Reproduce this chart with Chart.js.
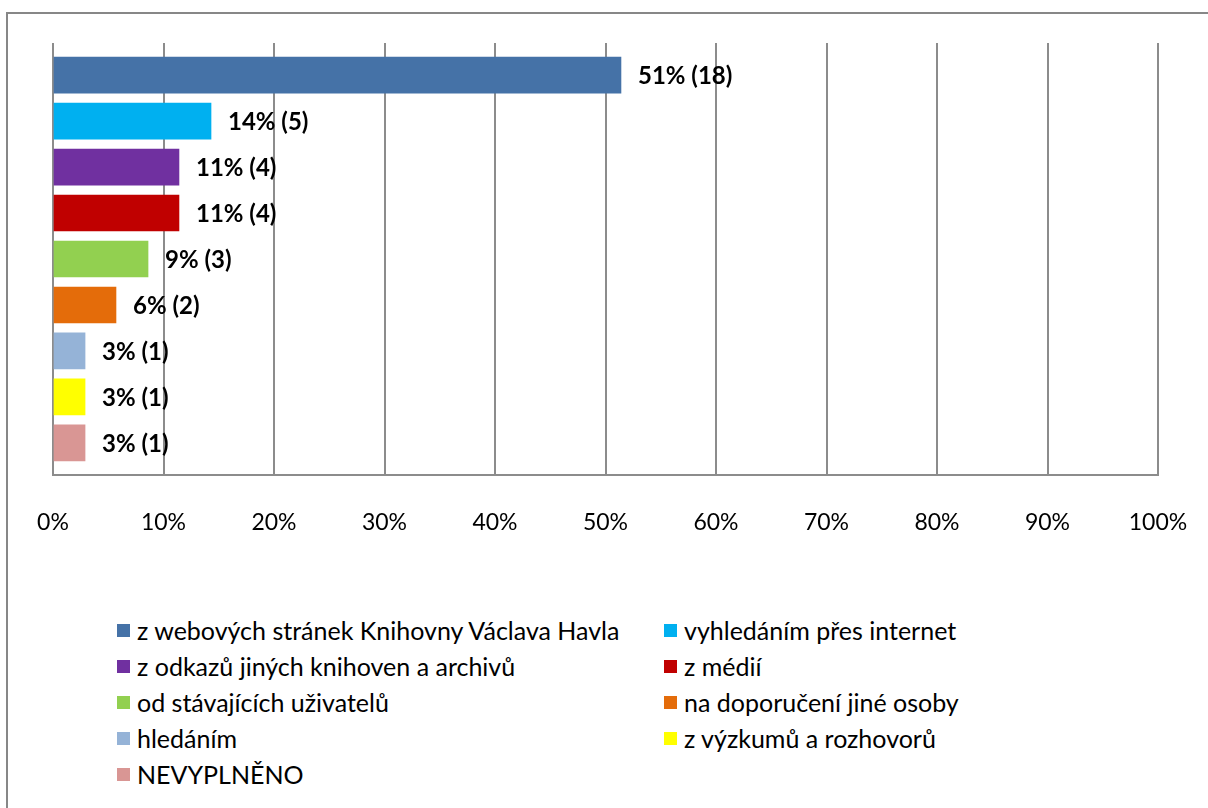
<!DOCTYPE html>
<html>
<head>
<meta charset="utf-8">
<script src="https://cdn.jsdelivr.net/npm/chart.js@4/dist/chart.umd.min.js"></script>
<style>
  html, body { margin: 0; padding: 0; background: #fff; overflow: hidden; }
  body { width: 1208px; height: 808px; position: relative; font-family: 'Lato', sans-serif; }
  #frame { position: absolute; left: 6px; top: 12px; width: 1220px; height: 820px; border: 2px solid #878787; }
  #wrap { position: absolute; left: 0; top: 0; width: 1208px; height: 560px; }
  #legend { position: absolute; left: 117px; top: 612px; display: grid; grid-template-columns: 547px 400px; grid-auto-rows: 36px; font-size: 25px; color: #000; }
  #legend .item { display: flex; align-items: center; white-space: nowrap; }
  #legend .box { width: 13px; height: 13px; margin-right: 7px; flex: none; }
</style>
</head>
<body>
<div id="frame"></div>
<div id="wrap"><canvas id="myChart"></canvas></div>
<div id="legend"></div>
<script>
/* Dati del grafico */
const categories = [
  'z webových stránek Knihovny Václava Havla',
  'vyhledáním přes internet',
  'z odkazů jiných knihoven a archivů',
  'z médií',
  'od stávajících uživatelů',
  'na doporučení jiné osoby',
  'hledáním',
  'z výzkumů a rozhovorů',
  'NEVYPLNĚNO'
];
const percentages = [51.4, 14.3, 11.4, 11.4, 8.6, 5.7, 2.9, 2.9, 2.9];
const counts = [18, 5, 4, 4, 3, 2, 1, 1, 1];
const colors = ['#4572A7', '#00B0F0', '#7030A0', '#C00000', '#92D050', '#E46C0A', '#95B3D7', '#FFFF00', '#D99694'];
const xTicks = [0, 10, 20, 30, 40, 50, 60, 70, 80, 90, 100];

/* Legenda a due colonne */
const legend = document.getElementById('legend');
categories.forEach((c, i) => {
  const item = document.createElement('div');
  item.className = 'item';
  const box = document.createElement('span');
  box.className = 'box';
  box.style.background = colors[i];
  const txt = document.createElement('span');
  txt.textContent = c;
  item.appendChild(box);
  item.appendChild(txt);
  legend.appendChild(item);
});

/* Etichette a destra delle barre */
const barLabels = {
  id: 'barLabels',
  afterDatasetsDraw(chart) {
    const ctx = chart.ctx;
    const meta = chart.getDatasetMeta(0);
    ctx.save();
    ctx.font = "bold 24px 'Lato', sans-serif";
    ctx.fillStyle = '#000';
    ctx.textAlign = 'left';
    ctx.textBaseline = 'middle';
    meta.data.forEach((bar, i) => {
      const text = Math.round(percentages[i]) + '% (' + counts[i] + ')';
      ctx.fillText(text, bar.x + 17, bar.y + 1);
    });
    ctx.restore();
  }
};

Chart.defaults.font.family = "'Lato', sans-serif";
Chart.defaults.font.size = 23;
Chart.defaults.color = '#000';

new Chart(document.getElementById('myChart'), {
  type: 'bar',
  data: {
    datasets: [{
      data: percentages.map((v, i) => ({ x: v, y: i })),
      backgroundColor: colors,
      borderWidth: 0,
      barThickness: 36
    }]
  },
  options: {
    indexAxis: 'y',
    responsive: true,
    maintainAspectRatio: false,
    animation: false,
    layout: { padding: { left: 53, right: 50, top: 43, bottom: 0 } },
    plugins: { legend: { display: false }, tooltip: { enabled: false } },
    scales: {
      x: {
        type: 'linear',
        min: 0,
        max: 100,
        afterBuildTicks: (s) => { s.ticks = xTicks.map(v => ({ value: v })); },
        afterFit: (s) => { s.height = 85; s.paddingLeft = 0; s.paddingRight = 0; },
        grid: { color: '#8c8c8c', lineWidth: 2, drawTicks: false },
        border: { display: true, color: '#8c8c8c', width: 2 },
        ticks: { padding: 34, callback: (v) => v + '%' }
      },
      y: {
        type: 'linear',
        reverse: true,
        offset: false,
        min: -0.7,
        max: 8.7,
        display: false
      }
    }
  },
  plugins: [barLabels]
});
</script>
</body>
</html>
